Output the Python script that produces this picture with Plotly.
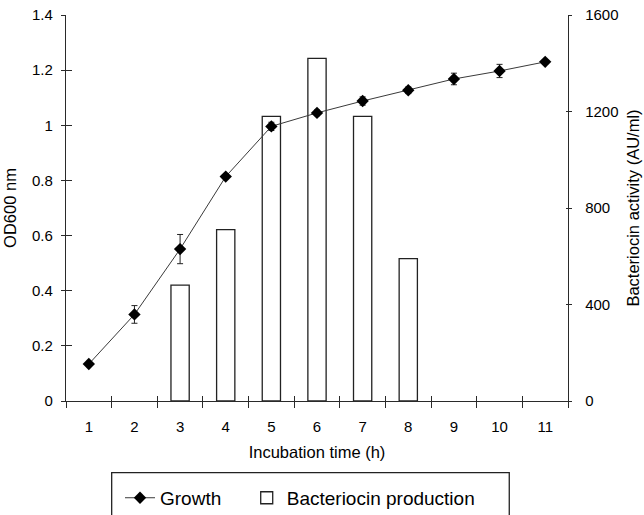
import plotly.graph_objects as go

# ---- data ----
hours = [1, 2, 3, 4, 5, 6, 7, 8, 9, 10, 11]
od600 = [0.134, 0.314, 0.551, 0.814, 0.996, 1.045, 1.088, 1.127, 1.168, 1.197, 1.23]
od600_err = [0.006, 0.032, 0.053, 0.008, 0.015, 0.010, 0.015, 0.012, 0.021, 0.024, 0.008]
bact_hours = [3, 4, 5, 6, 7, 8]
bacteriocin = [480, 710, 1180, 1420, 1180, 590]
od_ticks = [0, 0.2, 0.4, 0.6, 0.8, 1.0, 1.2, 1.4]
bact_ticks = [0, 400, 800, 1200, 1600]
boundaries = [0.5, 1.5, 2.5, 3.5, 4.5, 5.5, 6.5, 7.5, 8.5, 9.5, 10.5, 11.5]

FONT = "Liberation Sans, Arial, sans-serif"
AX = "#2a2a2a"

fig = go.Figure()

fig.add_trace(go.Bar(
    x=bact_hours, y=bacteriocin, name="Bacteriocin production",
    width=0.4, xaxis="x", yaxis="y", legend="legend2",
    marker=dict(color="white", line=dict(color="#222222", width=1.3)),
))
fig.add_trace(go.Scatter(
    x=hours, y=od600, name="Growth", mode="lines+markers",
    xaxis="x", yaxis="y2", legend="legend",
    line=dict(color="#3a3a3a", width=1),
    marker=dict(symbol="diamond", size=9.5, color="black"),
    error_y=dict(type="data", array=od600_err, color="#222222", thickness=1, width=3),
))
# invisible helpers that carry the crossing tick marks
for xa, ya in [("x2", "y"), ("x3", "y"), ("x", "y3"), ("x", "y4")]:
    fig.add_trace(go.Scatter(x=[None], y=[None], xaxis=xa, yaxis=ya,
                             showlegend=False, hoverinfo="skip"))

common = dict(showgrid=False, zeroline=False, automargin=False)
leg = dict(orientation="h", xanchor="left", y=-0.251, yanchor="middle",
           font=dict(size=19), bgcolor="rgba(0,0,0,0)", borderwidth=0)
TITLE = dict(size=16.5)
fig.update_layout(
    width=644, height=515,
    margin=dict(l=66, r=76, t=15, b=114, autoexpand=False),
    paper_bgcolor="white", plot_bgcolor="white",
    font=dict(family=FONT, size=15, color="black"),
    showlegend=True,
    xaxis=dict(range=[0.5, 11.5], tickvals=hours, ticks="", showline=True,
               linecolor=AX, linewidth=1.3, ticklabelstandoff=12,
               title=dict(text="Incubation time (h)", font=TITLE, standoff=12),
               **common),
    xaxis2=dict(range=[0.5, 11.5], overlaying="x", anchor="y", side="bottom",
                tickvals=boundaries, ticks="outside", ticklen=6, tickwidth=1.3,
                tickcolor=AX, showticklabels=False, showline=False, **common),
    xaxis3=dict(range=[0.5, 11.5], overlaying="x", anchor="y", side="bottom",
                tickvals=boundaries, ticks="inside", ticklen=5, tickwidth=1.3,
                tickcolor=AX, showticklabels=False, showline=False, **common),
    yaxis=dict(range=[0, 1600], tickvals=bact_ticks, side="right", anchor="x",
               ticks="outside", ticklen=3, tickwidth=1.3, tickcolor=AX,
               showline=True, linecolor=AX, linewidth=1.3, ticklabelstandoff=10,
               title=dict(text="Bacteriocin activity (AU/ml)", font=TITLE, standoff=9),
               **common),
    yaxis2=dict(range=[0, 1.4], tickvals=od_ticks, side="left", anchor="x",
                overlaying="y", ticks="outside", ticklen=4, tickwidth=1.3, tickcolor=AX,
                showline=True, linecolor=AX, linewidth=1.3, ticklabelstandoff=5,
                title=dict(text="OD600 nm", font=TITLE, standoff=11),
                **common),
    yaxis3=dict(range=[0, 1.4], tickvals=od_ticks, side="left", anchor="x",
                overlaying="y", ticks="inside", ticklen=6, tickwidth=1.3, tickcolor=AX,
                showticklabels=False, showline=False, **common),
    yaxis4=dict(range=[0, 1600], tickvals=bact_ticks, side="right", anchor="x",
                overlaying="y", ticks="inside", ticklen=2, tickwidth=1.3, tickcolor=AX,
                showticklabels=False, showline=False, **common),
    legend=dict(x=0.1076, **leg),
    legend2=dict(x=0.36, **leg),
    shapes=[dict(type="rect", xref="paper", yref="paper",
                 x0=0.091, x1=0.883, y0=-0.1857, y1=-0.32,
                 line=dict(color="#222222", width=1.3), fillcolor="rgba(0,0,0,0)")],
)

fig.write_html("out.html", config={"displayModeBar": False},
               post_script="document.body.style.margin='0px';")
